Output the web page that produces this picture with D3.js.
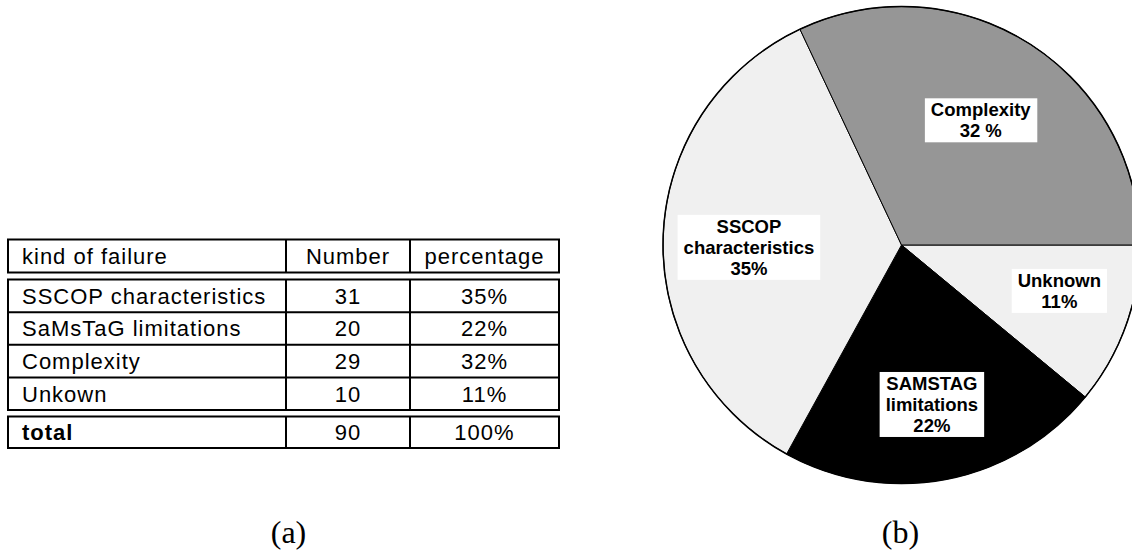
<!DOCTYPE html>
<html>
<head>
<meta charset="utf-8">
<script src="https://cdn.jsdelivr.net/npm/d3@7"></script>
<style>
  html, body { margin: 0; padding: 0; background: #fff; overflow: hidden; }
  svg { display: block; }
</style>
</head>
<body>
<svg id="chart" width="1132" height="551"></svg>
<script>
// ---------- data ----------
const tableHeaders = ["kind of failure", "Number", "percentage"];
const failureKinds = ["SSCOP characteristics", "SaMsTaG limitations", "Complexity", "Unkown"];
const failureCounts = [31, 20, 29, 10];
const failurePercents = ["35%", "22%", "32%", "11%"];
const totalRow = ["total", "90", "100%"];

// pie slices, clockwise starting at 3 o'clock
const pieCategories = ["Unknown", "SAMSTAG limitations", "SSCOP characteristics", "Complexity"];
const pieValues = [11, 22, 35, 32];
const pieLabelLines = [["Unknown", "11%"], ["SAMSTAG", "limitations", "22%"], ["SSCOP", "characteristics", "35%"], ["Complexity", "32 %"]];
const pieColors = ["#f0f0f0", "#000000", "#f0f0f0", "#969696"];

const captions = ["(a)", "(b)"];

// ---------- drawing ----------
const svg = d3.select("#chart");

// ===== Table (a) =====
const colEdges = [8, 286, 410, 559];
const bodyRows = failureKinds.map((k, i) => [k, String(failureCounts[i]), failurePercents[i]]);
const bodyScale = d3.scaleBand().domain(d3.range(bodyRows.length)).range([279.5, 410]);
const headerTop = 239.5, headerBottom = 272.5;
const totalTop = 416.5, totalBottom = 448;

const tbl = svg.append("g").attr("class", "table");
const lineW = 2;

function hline(y, x0, x1) {
  tbl.append("line").attr("x1", x0).attr("x2", x1).attr("y1", y).attr("y2", y)
    .attr("stroke", "#000").attr("stroke-width", lineW);
}
function vline(x, y0, y1) {
  tbl.append("line").attr("x1", x).attr("x2", x).attr("y1", y0).attr("y2", y1)
    .attr("stroke", "#000").attr("stroke-width", lineW);
}
const xL = colEdges[0] - 1, xR = colEdges[3] + 1;
hline(headerTop, xL, xR); hline(headerBottom, xL, xR);
hline(bodyScale.range()[0], xL, xR);
bodyRows.forEach((r, i) => hline(bodyScale(i) + bodyScale.bandwidth(), xL, xR));
hline(totalTop, xL, xR); hline(totalBottom, xL, xR);
colEdges.forEach(x => {
  vline(x, headerTop, headerBottom);
  vline(x, bodyScale.range()[0], bodyScale.range()[1]);
  vline(x, totalTop, totalBottom);
});

const tFont = "'Liberation Sans', Arial, sans-serif";
function cellText(row, yMid, bold) {
  row.forEach((txt, c) => {
    const left = c === 0;
    tbl.append("text")
      .attr("x", left ? colEdges[0] + 14 : (colEdges[c] + colEdges[c + 1]) / 2)
      .attr("y", yMid)
      .attr("dy", "0.36em")
      .attr("text-anchor", left ? "start" : "middle")
      .attr("font-family", tFont)
      .attr("font-size", 22)
      .attr("letter-spacing", "1px")
      .attr("font-weight", bold && c === 0 ? "bold" : "normal")
      .attr("fill", "#000")
      .text(txt);
  });
}
cellText(tableHeaders, (headerTop + headerBottom) / 2, false);
bodyRows.forEach((r, i) => cellText(r, bodyScale(i) + bodyScale.bandwidth() / 2, false));
cellText(totalRow, (totalTop + totalBottom) / 2, true);

// ===== Pie (b) =====
const cx = 901.5, cy = 245, R = 238.5;
const pie = d3.pie().sort(null).value(d => d).startAngle(Math.PI / 2).endAngle(Math.PI / 2 + 2 * Math.PI);
const arcs = pie(pieValues);
const arc = d3.arc().innerRadius(0).outerRadius(R);
const pg = svg.append("g").attr("transform", `translate(${cx},${cy})`);

pg.selectAll("path.slice").data(arcs).join("path")
  .attr("class", "slice")
  .attr("d", arc)
  .attr("fill", (d, i) => pieColors[i])
  .attr("stroke", "#000")
  .attr("stroke-width", 1);
pg.append("circle").attr("r", R).attr("fill", "none").attr("stroke", "#000").attr("stroke-width", 1.5);

const labelFactor = [0.69, 0.68, 0.64, 0.62];
const labelNudge = [[3, -10], [0, 0], [0, 7], [0, 0]];
const lineH = 21;
arcs.forEach((d, i) => {
  const la = d3.arc().innerRadius(R * labelFactor[i]).outerRadius(R * labelFactor[i]);
  const [lx, ly] = la.centroid(d);
  const lines = pieLabelLines[i];
  const g = pg.append("g").attr("transform", `translate(${lx + labelNudge[i][0]},${ly + labelNudge[i][1]})`);
  const rect = g.append("rect").attr("fill", "#fff");
  const t = g.append("text")
    .attr("text-anchor", "middle")
    .attr("font-family", "'Liberation Sans', Arial, sans-serif")
    .attr("font-weight", "bold")
    .attr("font-size", 18.5)
    .attr("fill", "#000");
  lines.forEach((ln, j) => {
    t.append("tspan").attr("x", 0)
      .attr("y", (j - (lines.length - 1) / 2) * lineH)
      .attr("dy", "0.36em")
      .text(ln);
  });
  const bb = t.node().getBBox();
  rect.attr("x", bb.x - 6).attr("y", bb.y - 1).attr("width", bb.width + 12).attr("height", bb.height + 2);
});

// ===== captions =====
const capX = [(colEdges[0] + colEdges[3]) / 2 + 5, cx - 1];
captions.forEach((c, i) => {
  svg.append("text")
    .attr("x", capX[i]).attr("y", 543)
    .attr("text-anchor", "middle")
    .attr("font-family", "'Liberation Serif', 'Times New Roman', serif")
    .attr("font-size", 32)
    .attr("fill", "#000")
    .text(c);
});
</script>
</body>
</html>
